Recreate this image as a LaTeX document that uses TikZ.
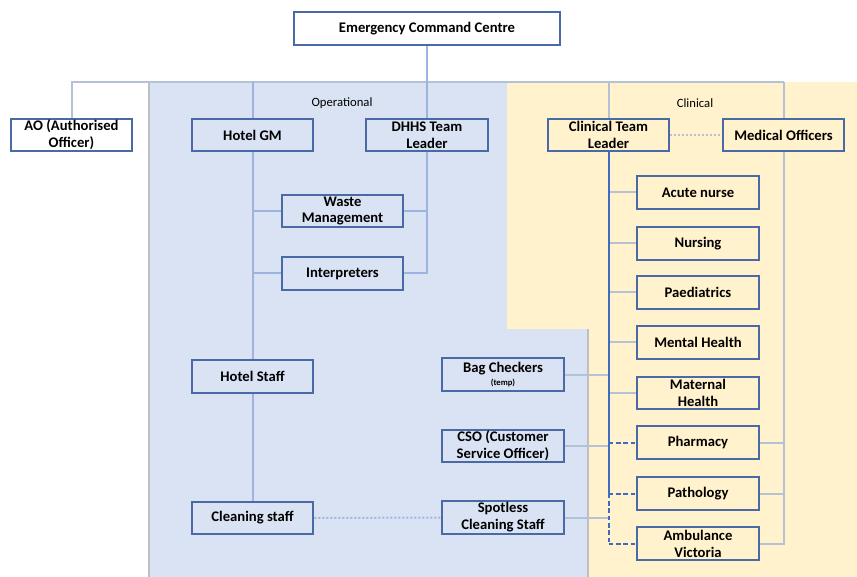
\documentclass[tikz,border=0pt]{standalone}
\usepackage{fontspec}
\setmainfont{Carlito}
\usetikzlibrary{calc}
\definecolor{opfill}{HTML}{DAE3F3}
\definecolor{clfill}{HTML}{FFF2CC}
\definecolor{boxblue}{HTML}{4A6AA5}
\definecolor{oplink}{HTML}{9DB4E0}
\definecolor{cllink}{HTML}{B4C2D6}
\definecolor{clmain}{HTML}{3F6CC0}
\definecolor{areaedge}{HTML}{BFBFBF}

\begin{document}
\begin{tikzpicture}[x=0.75pt, y=-0.75pt, line cap=butt, line join=miter,
	orgbox/.style={draw=boxblue, line width=1.7pt, minimum width=91pt, minimum height=24.5pt,
		inner sep=1pt, align=center, font=\fontsize{11}{12.7}\selectfont\bfseries},
	oplinks/.style={draw=oplink, line width=1.5pt},
	cllinks/.style={draw=cllink, line width=1.5pt},
	clspine/.style={draw=clmain, line width=1.5pt}]
	
	\useasboundingbox (0,0) rectangle (857,577);
	
	%========================
	% background areas
	%========================
	\fill[opfill] (149,82) rectangle (588,577);
	\draw[areaedge, line width=1.1pt] (149,82) -- (149,577);
	\draw[areaedge, line width=1.1pt] (588,329) -- (588,577);
	\fill[clfill] (507,82) rectangle (857,329);
	\fill[clfill] (588.7,329) rectangle (857,577);
	
	\node[font=\fontsize{9.5}{11}\selectfont] (optitle) at (342,103) {Operational};
	\node[font=\fontsize{9.5}{11}\selectfont] (cltitle) at (695,103) {Clinical};
	
	%========================
	% top level
	%========================
	\node[orgbox, fill=white, minimum width=199pt] (ecc) at (427,28.5) {Emergency Command Centre};
	\node[orgbox, fill=white] (ao) at (71.5,135) {AO (Authorised\\Officer)};
	\coordinate (bus) at (427,82);
	
	%========================
	% operational side
	%========================
	\node[orgbox, fill=opfill] (gm) at (252.5,135) {Hotel GM};
	\node[orgbox, fill=opfill] (dhhs) at (427,135) {DHHS Team\\Leader};
	\node[orgbox, fill=opfill] (waste) at (342.5,211) {Waste\\Management};
	\node[orgbox, fill=opfill] (interp) at (342.5,273.5) {Interpreters};
	\node[orgbox, fill=opfill] (hstaff) at (252.5,376.5) {Hotel Staff};
	\node[orgbox, fill=opfill] (clean) at (252.5,518) {Cleaning staff};
	\node[orgbox, fill=opfill] (bag) at (503,374.5)
		{Bag Checkers\\[-3pt]{\fontsize{6.5}{7}\selectfont (temp)}};
	\node[orgbox, fill=opfill] (cso) at (503,446) {CSO (Customer\\Service Officer)};
	\node[orgbox, fill=opfill] (spot) at (503,517.5) {Spotless\\Cleaning Staff};
	
	%========================
	% clinical side
	%========================
	\node[orgbox, fill=clfill] (ctl) at (608.5,135) {Clinical Team\\Leader};
	\node[orgbox, fill=clfill] (mo) at (783.5,135) {Medical Officers};
	\node[orgbox, fill=clfill] (acute) at (698,192.5) {Acute nurse};
	\node[orgbox, fill=clfill] (nurs) at (698,243.5) {Nursing};
	\node[orgbox, fill=clfill] (paed) at (698,292.5) {Paediatrics};
	\node[orgbox, fill=clfill] (mental) at (698,342.5) {Mental Health};
	\node[orgbox, fill=clfill] (mater) at (698,393) {Maternal\\Health};
	\node[orgbox, fill=clfill] (pharm) at (698,442.5) {Pharmacy};
	\node[orgbox, fill=clfill] (path) at (698,493.5) {Pathology};
	\node[orgbox, fill=clfill] (amb) at (698,543.5) {Ambulance\\Victoria};
	
	%========================
	% connectors
	%========================
	% top bus
	\draw[cllinks] (ao.north) -- (ao.north |- bus) -- (mo.north |- bus);
	\draw[oplinks] (ecc.south) -- (dhhs.north);
	\draw[oplinks] (gm.north |- bus) -- (gm.north);
	\draw[cllinks] (ctl.north |- bus) -- (ctl.north);
	\draw[cllinks] (mo.north |- bus) -- (mo.north);
	
	% operational tree
	\draw[oplinks] (gm.south) -- (hstaff.north);
	\draw[oplinks] (hstaff.south) -- (clean.north);
	\draw[oplinks] (gm.south |- waste.west) -- (waste.west);
	\draw[oplinks] (gm.south |- interp.west) -- (interp.west);
	\draw[oplinks] (dhhs.south) -- (dhhs.south |- interp.east) -- (interp.east);
	\draw[oplinks] (dhhs.south |- waste.east) -- (waste.east);
	\draw[oplinks, dash pattern=on 1.5pt off 1.5pt] (clean.east) -- (spot.west);
	
	% clinical tree
	\foreach \n in {acute,nurs,paed,mental,mater}
		\draw[cllinks] (ctl.south |- \n.west) -- (\n.west);
	\foreach \n in {bag,cso,spot}
		\draw[cllinks] (\n.east) -- (ctl.south |- \n.east);
	\foreach \n in {pharm,path,amb}
		\draw[clspine, dash pattern=on 3.5pt off 2pt] (ctl.south |- \n.west) -- (\n.west);
	\draw[clspine] (ctl.south) -- (ctl.south |- path.west);
	\draw[clspine, dash pattern=on 3.5pt off 2pt] (ctl.south |- path.west) -- (ctl.south |- amb.west);
	\draw[cllinks] (mo.south) -- (mo.south |- amb.east) -- (amb.east);
	\foreach \n in {pharm,path}
		\draw[cllinks] (\n.east) -- (mo.south |- \n.east);
	\draw[cllinks, dash pattern=on 1.5pt off 1.5pt, line width=1.8pt] (ctl.east) -- (mo.west);
	
\end{tikzpicture}
\end{document}
